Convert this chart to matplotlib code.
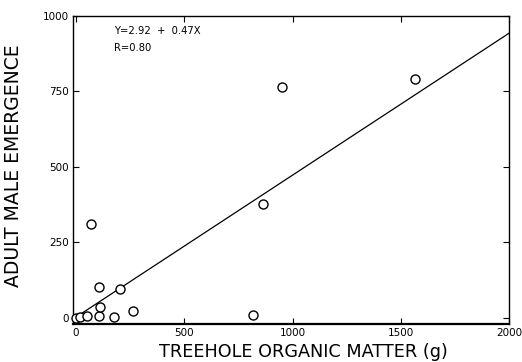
import matplotlib
matplotlib.use("Agg")
import matplotlib.pyplot as plt
import numpy as np

organic_matter = [0, 18, 52, 70, 105, 107, 110, 176, 205, 263, 816, 862, 950, 1565]
male_emergence = [0, 4, 5, 310, 104, 8, 35, 2, 95, 24, 10, 376, 765, 793]
intercept, slope = 2.92, 0.47
x_ticks = [0, 500, 1000, 1500, 2000]
y_ticks = [0, 250, 500, 750, 1000]

plt.rcParams['font.family'] = ['DejaVu Sans']
fig = plt.figure(figsize=(5.22, 3.62), dpi=100)
ax = fig.add_axes([73/522, 1-324/362, (509-73)/522, (324-16)/362])

ax.plot(organic_matter, male_emergence, 'o', mfc='white', mec='black',
        ms=6.5, mew=1.0, zorder=3, clip_on=False)
xl = np.array([0, 2000])
ax.plot(xl, intercept + slope*xl, color='black', lw=0.9)

ax.set_xlim(-14, 2000)
ax.set_ylim(-20, 1000)
ax.set_xticks(x_ticks)
ax.set_yticks(y_ticks)
ax.tick_params(direction='in', top=True, right=True, length=4, width=0.8,
               labelsize=7.5, pad=3)
for s in ax.spines.values():
    s.set_linewidth(1.0)
ax.spines['bottom'].set_linewidth(1.6)

ax.set_xlabel('TREEHOLE ORGANIC MATTER (g)', fontsize=12.7)
ax.set_ylabel('ADULT MALE EMERGENCE', fontsize=13.5)
ax.xaxis.set_label_coords((303 - 73) / 436, -(352 - 324) / 308)
ax.yaxis.set_label_coords(-(73 - 14) / 436, (324 - 166) / 308)
ax.xaxis.label.set_va('center')
ax.yaxis.label.set_va('center')

ax.text(0.095, 0.95, 'Y=2.92  +  0.47X', transform=ax.transAxes, fontsize=7.2,
        va='center', ha='left')
ax.text(0.095, 0.895, 'R=0.80', transform=ax.transAxes, fontsize=7.2,
        va='center', ha='left')

fig.savefig('out.png', dpi=100)
